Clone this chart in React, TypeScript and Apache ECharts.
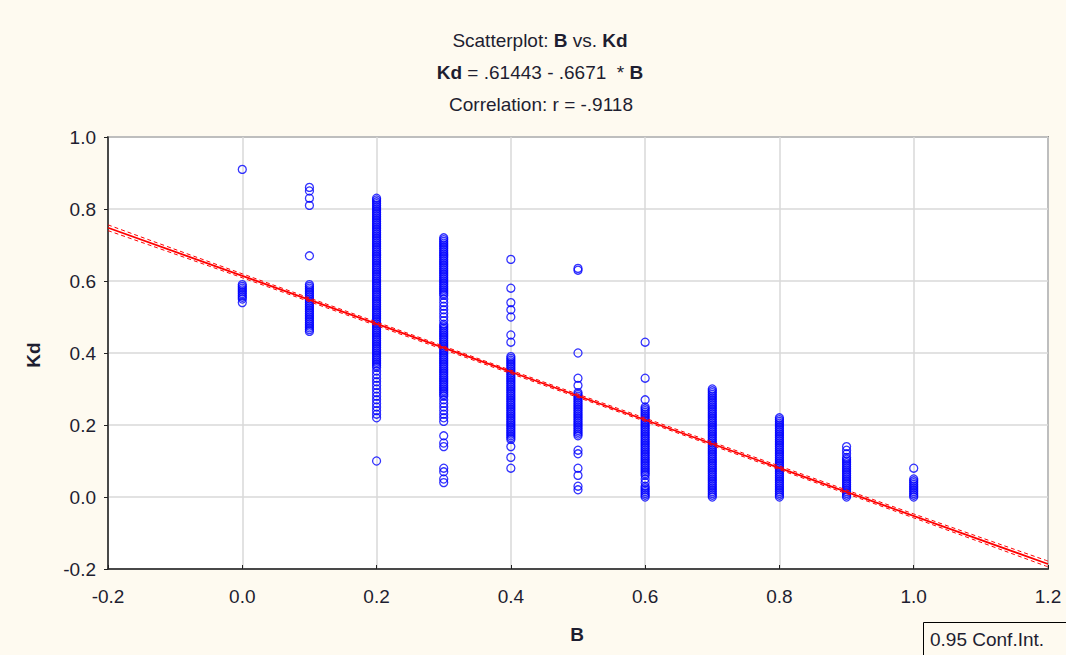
import React, { useEffect, useRef } from "react";
import * as echarts from "echarts";

const bLevels = [0.0, 0.1, 0.2, 0.3, 0.4, 0.5, 0.6, 0.7, 0.8, 0.9, 1.0];

const kdAtB00 = [0.91, 0.59, 0.585, 0.58, 0.575, 0.57, 0.565, 0.56, 0.555, 0.55, 0.54];
const kdAtB01 = [
  0.86, 0.85, 0.83, 0.81, 0.67,
  0.59, 0.585, 0.58, 0.575, 0.57, 0.565, 0.56, 0.555, 0.55, 0.545, 0.54, 0.535, 0.53, 0.525, 0.52, 0.515, 0.51, 0.505,
  0.5, 0.495, 0.49, 0.485, 0.48, 0.475, 0.47, 0.465, 0.46,
];
const kdAtB02 = [
  0.83, 0.825, 0.82, 0.815, 0.81, 0.805, 0.8, 0.795, 0.79, 0.785,
  0.78, 0.775, 0.77, 0.765, 0.76, 0.755, 0.75, 0.745, 0.74, 0.735,
  0.73, 0.725, 0.72, 0.715, 0.71, 0.705, 0.7, 0.695, 0.69, 0.685,
  0.68, 0.675, 0.67, 0.665, 0.66, 0.655, 0.65, 0.645, 0.64, 0.635,
  0.63, 0.625, 0.62, 0.615, 0.61, 0.605, 0.6, 0.595, 0.59, 0.585,
  0.58, 0.575, 0.57, 0.565, 0.56, 0.555, 0.55, 0.545, 0.54, 0.535,
  0.53, 0.525, 0.52, 0.515, 0.51, 0.505, 0.5, 0.495, 0.49, 0.485,
  0.48, 0.475, 0.47, 0.465, 0.46, 0.455, 0.45, 0.445, 0.44, 0.435,
  0.43, 0.425, 0.42, 0.415, 0.41, 0.405, 0.4, 0.395, 0.39, 0.385,
  0.38, 0.375, 0.37, 0.365, 0.36, 0.35, 0.34, 0.33, 0.32, 0.31,
  0.3, 0.29, 0.28, 0.27, 0.26, 0.25, 0.24, 0.23, 0.22, 0.1,
];
const kdAtB03 = [
  0.72, 0.715, 0.71, 0.705, 0.7, 0.695, 0.69, 0.685, 0.68, 0.675,
  0.67, 0.665, 0.66, 0.655, 0.65, 0.645, 0.64, 0.635, 0.63, 0.625,
  0.62, 0.615, 0.61, 0.605, 0.6, 0.595, 0.59, 0.585, 0.58, 0.575,
  0.57, 0.565, 0.56, 0.55, 0.54, 0.53, 0.52, 0.51, 0.5, 0.49,
  0.48, 0.475, 0.47, 0.465, 0.46, 0.455, 0.45, 0.445, 0.44, 0.435,
  0.43, 0.425, 0.42, 0.415, 0.41, 0.405, 0.4, 0.395, 0.39, 0.385,
  0.38, 0.375, 0.37, 0.365, 0.36, 0.355, 0.35, 0.345, 0.34, 0.335,
  0.33, 0.325, 0.32, 0.315, 0.31, 0.305, 0.3, 0.295, 0.29, 0.285,
  0.28, 0.27, 0.26, 0.25, 0.24, 0.23, 0.22, 0.21,
  0.17, 0.15, 0.14, 0.08, 0.07, 0.05, 0.04,
];
const kdAtB04 = [
  0.66, 0.58, 0.54, 0.52, 0.5, 0.45, 0.43,
  0.39, 0.385, 0.38, 0.375, 0.37, 0.365, 0.36, 0.355, 0.35, 0.345,
  0.34, 0.335, 0.33, 0.325, 0.32, 0.315, 0.31, 0.305, 0.3, 0.295,
  0.29, 0.285, 0.28, 0.275, 0.27, 0.265, 0.26, 0.255, 0.25, 0.245,
  0.24, 0.235, 0.23, 0.225, 0.22, 0.215, 0.21, 0.205, 0.2, 0.195,
  0.19, 0.185, 0.18, 0.175, 0.17, 0.165, 0.16,
  0.14, 0.11, 0.08,
];
const kdAtB05 = [
  0.635, 0.63, 0.4, 0.33, 0.31,
  0.29, 0.285, 0.28, 0.275, 0.27, 0.265, 0.26, 0.255, 0.25, 0.245,
  0.24, 0.235, 0.23, 0.225, 0.22, 0.215, 0.21, 0.205, 0.2, 0.195,
  0.19, 0.185, 0.18, 0.175, 0.17,
  0.13, 0.12, 0.08, 0.06, 0.03, 0.02,
];
const kdAtB06 = [
  0.43, 0.33, 0.27,
  0.25, 0.245, 0.24, 0.235, 0.23, 0.225, 0.22, 0.215, 0.21, 0.205,
  0.2, 0.195, 0.19, 0.185, 0.18, 0.175, 0.17, 0.165, 0.16, 0.155,
  0.15, 0.145, 0.14, 0.135, 0.13, 0.125, 0.12, 0.115, 0.11, 0.105,
  0.1, 0.095, 0.09, 0.085, 0.08, 0.075, 0.07, 0.065, 0.06, 0.05,
  0.04, 0.03, 0.025, 0.02, 0.015, 0.01, 0.005, 0.0,
];
const kdAtB07 = [
  0.3, 0.295, 0.29, 0.285, 0.28, 0.275, 0.27, 0.265, 0.26, 0.255,
  0.25, 0.245, 0.24, 0.235, 0.23, 0.225, 0.22, 0.215, 0.21, 0.205,
  0.2, 0.195, 0.19, 0.185, 0.18, 0.175, 0.17, 0.165, 0.16, 0.155,
  0.15, 0.145, 0.14, 0.135, 0.13, 0.125, 0.12, 0.115, 0.11, 0.105,
  0.1, 0.095, 0.09, 0.085, 0.08, 0.075, 0.07, 0.065, 0.06, 0.055,
  0.05, 0.045, 0.04, 0.035, 0.03, 0.025, 0.02, 0.015, 0.01, 0.005, 0.0,
];
const kdAtB08 = [
  0.22, 0.215, 0.21, 0.205, 0.2, 0.195, 0.19, 0.185, 0.18, 0.175,
  0.17, 0.165, 0.16, 0.155, 0.15, 0.145, 0.14, 0.135, 0.13, 0.125,
  0.12, 0.115, 0.11, 0.105, 0.1, 0.095, 0.09, 0.085, 0.08, 0.075,
  0.07, 0.065, 0.06, 0.055, 0.05, 0.045, 0.04, 0.035, 0.03, 0.025,
  0.02, 0.015, 0.01, 0.005, 0.0,
];
const kdAtB09 = [
  0.14, 0.13, 0.12, 0.11, 0.105, 0.1, 0.095, 0.09, 0.085, 0.08,
  0.075, 0.07, 0.065, 0.06, 0.055, 0.05, 0.045, 0.04, 0.035, 0.03,
  0.025, 0.02, 0.015, 0.01, 0.005, 0.0,
];
const kdAtB10 = [0.08, 0.05, 0.045, 0.04, 0.035, 0.03, 0.025, 0.02, 0.015, 0.01, 0.005, 0.0];

const kdColumns = [kdAtB00, kdAtB01, kdAtB02, kdAtB03, kdAtB04, kdAtB05, kdAtB06, kdAtB07, kdAtB08, kdAtB09, kdAtB10];

// regression Kd = .61443 - .6671 * B
const intercept = 0.61443;
const slope = -0.6671;
const fitB = [-0.2, 1.2];

const confB = [-0.2, 0.0, 0.2, 0.4, 0.6, 0.8, 1.0, 1.2];
const confUpper = [0.756, 0.62, 0.486, 0.352, 0.219, 0.086, -0.047, -0.178];
const confLower = [0.74, 0.609, 0.476, 0.343, 0.21, 0.076, -0.058, -0.194];

const xTicks = ["-0.2", "0.0", "0.2", "0.4", "0.6", "0.8", "1.0", "1.2"];
const yTicks = ["-0.2", "0.0", "0.2", "0.4", "0.6", "0.8", "1.0"];

const FONT = "'Liberation Sans', Arial, sans-serif";
const TXT = "#1e1e30";
const FS = 19;

export default function App() {
  const ref = useRef<HTMLDivElement>(null);
  useEffect(() => {
    if (!ref.current) return;
    const chart = echarts.init(ref.current, null, { renderer: "svg" });
    const points: number[][] = [];
    kdColumns.forEach((col, i) => col.forEach((v) => points.push([bLevels[i], v])));
    const fitData = fitB.map((b) => [b, intercept + slope * b]);
    chart.setOption({
      animation: false,
      backgroundColor: "#FEFAF0",
      grid: { left: 108, right: 18, top: 137, bottom: 86, show: true, backgroundColor: "#ffffff", borderColor: "#444", borderWidth: 1.5 },
      xAxis: {
        type: "value",
        min: -0.2,
        max: 1.2,
        interval: 0.2,
        axisLine: { show: true, onZero: false, lineStyle: { color: "#222", width: 1.5 } },
        axisTick: { show: true, inside: true, length: 4, lineStyle: { color: "#222" } },
        splitLine: { show: true, lineStyle: { color: "#d9d9d9", width: 1.5 } },
        axisLabel: {
          fontFamily: FONT,
          fontSize: FS,
          color: TXT,
          margin: 18,
          formatter: (v: number) => xTicks[Math.round((v + 0.2) / 0.2)] ?? v.toFixed(1),
        },
      },
      yAxis: {
        type: "value",
        min: -0.2,
        max: 1.0,
        interval: 0.2,
        axisLine: { show: true, onZero: false, lineStyle: { color: "#222", width: 1.5 } },
        axisTick: { show: true, inside: false, length: 4, lineStyle: { color: "#222" } },
        splitLine: { show: true, lineStyle: { color: "#d9d9d9", width: 1.5 } },
        axisLabel: {
          fontFamily: FONT,
          fontSize: FS,
          color: TXT,
          margin: 12,
          formatter: (v: number) => yTicks[Math.round((v + 0.2) / 0.2)] ?? v.toFixed(1),
        },
      },
      series: [
        {
          type: "scatter",
          data: points,
          symbol: "circle",
          symbolSize: 8,
          itemStyle: { color: "rgba(0,0,0,0)", borderColor: "#0000ff", borderWidth: 1.3 },
          z: 3,
        },
        {
          type: "line",
          data: fitData,
          symbol: "none",
          lineStyle: { color: "#ff0000", width: 1.8 },
          z: 4,
        },
        {
          type: "line",
          data: confB.map((b, i) => [b, confUpper[i]]),
          symbol: "none",
          smooth: true,
          lineStyle: { color: "#ff0000", width: 1, type: [4, 3] },
          z: 4,
        },
        {
          type: "line",
          data: confB.map((b, i) => [b, confLower[i]]),
          symbol: "none",
          smooth: true,
          lineStyle: { color: "#ff0000", width: 1, type: [4, 3] },
          z: 4,
        },
      ],
      graphic: [
        {
          type: "text",
          x: 540,
          y: 40,
          style: {
            text: "Scatterplot: {b|B} vs. {b|Kd}",
            rich: { b: { fontWeight: "bold", fontFamily: FONT, fontSize: FS, fill: TXT } },
            fontFamily: FONT,
            fontSize: FS,
            fill: TXT,
            align: "center",
            verticalAlign: "middle",
          },
        },
        {
          type: "text",
          x: 540,
          y: 72,
          style: {
            text: "{b|Kd} = .61443 - .6671  * {b|B}",
            rich: { b: { fontWeight: "bold", fontFamily: FONT, fontSize: FS, fill: TXT } },
            fontFamily: FONT,
            fontSize: FS,
            fill: TXT,
            align: "center",
            verticalAlign: "middle",
          },
        },
        {
          type: "text",
          x: 541,
          y: 104,
          style: {
            text: "Correlation: r = -.9118",
            fontFamily: FONT,
            fontSize: FS,
            fill: TXT,
            align: "center",
            verticalAlign: "middle",
          },
        },
        {
          type: "text",
          x: 577,
          y: 634,
          style: { text: "B", fontFamily: FONT, fontSize: FS, fontWeight: "bold", fill: TXT, align: "center", verticalAlign: "middle" },
        },
        {
          type: "text",
          x: 33,
          y: 355,
          rotation: Math.PI / 2,
          style: { text: "Kd", fontFamily: FONT, fontSize: FS, fontWeight: "bold", fill: TXT, align: "center", verticalAlign: "middle" },
        },
        {
          type: "rect",
          shape: { x: 923.5, y: 622.5, width: 150, height: 40 },
          style: { fill: "#FEFAF0", stroke: "#000", lineWidth: 1 },
        },
        {
          type: "text",
          x: 930,
          y: 639,
          style: { text: "0.95 Conf.Int.", fontFamily: FONT, fontSize: FS, fill: TXT, align: "left", verticalAlign: "middle" },
        },
      ],
    });
    return () => chart.dispose();
  }, []);
  return <div ref={ref} style={{ position: "fixed", left: 0, top: 0, width: 1066, height: 655 }} />;
}
